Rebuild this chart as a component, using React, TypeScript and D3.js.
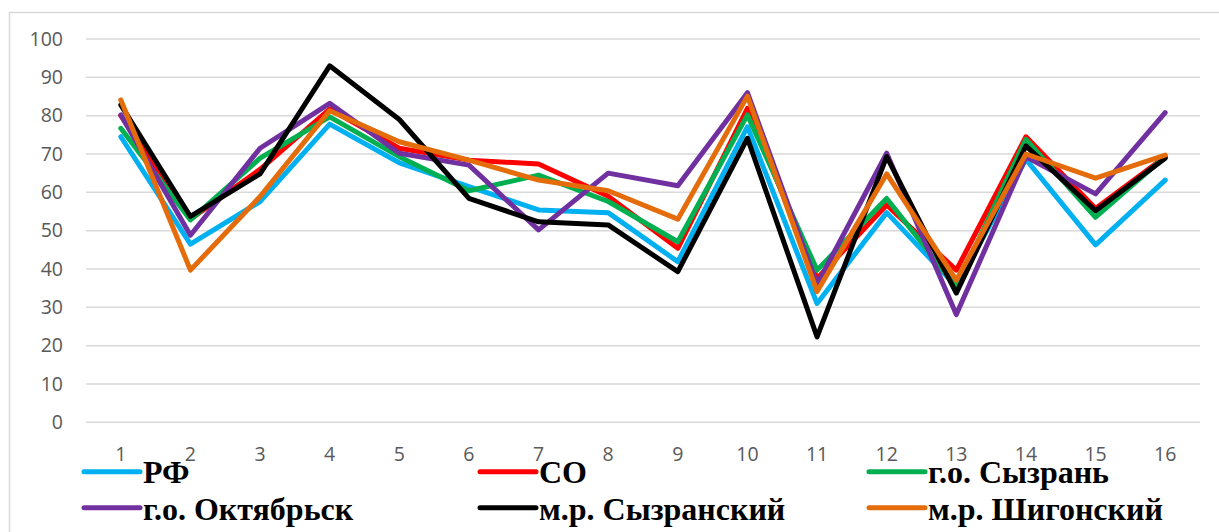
import React from "react";
import * as d3 from "d3";

const categories = ["1","2","3","4","5","6","7","8","9","10","11","12","13","14","15","16"];
const yTicks = [0,10,20,30,40,50,60,70,80,90,100];

const seriesNames = ["РФ","СО","г.о. Сызрань","г.о. Октябрьск","м.р. Сызранский","м.р. Шигонский"];
const seriesColors = ["#00B0F0","#FF0000","#00B050","#7030A0","#000000","#E46C0A"];

const rf =         [74.5, 46.5, 57.6, 77.8, 67.7, 61.5, 55.4, 54.7, 41.9, 77.1, 31.0, 54.7, 35.5, 68.6, 46.3, 63.2];
const so =         [80.0, 53.0, 66.0, 81.7, 71.5, 68.4, 67.4, 59.0, 45.4, 81.9, 37.5, 56.7, 39.7, 74.5, 55.8, 69.3];
const syzran =     [76.7, 52.8, 68.9, 79.7, 69.3, 60.4, 64.5, 57.6, 47.1, 80.2, 39.7, 58.4, 35.4, 73.8, 53.5, 69.3];
const oktyabrsk =  [80.2, 48.8, 71.5, 83.2, 70.2, 67.1, 50.2, 65.0, 61.7, 86.0, 36.0, 70.2, 28.1, 69.3, 59.6, 80.8];
const syzranskiy = [82.8, 53.7, 64.8, 93.0, 79.0, 58.4, 52.3, 51.5, 39.3, 74.1, 22.3, 69.3, 33.7, 72.1, 55.2, 68.9];
const shigonskiy = [84.1, 39.7, 58.9, 81.3, 73.2, 68.4, 63.2, 60.4, 53.0, 85.1, 34.1, 64.8, 37.1, 70.0, 63.7, 69.7];

const seriesValues = [rf, so, syzran, oktyabrsk, syzranskiy, shigonskiy];

const W = 1219, H = 532;
const plotLeft = 86, plotRight = 1200, plotTop = 39, plotBottom = 422.3;

export default function App() {
  const x = d3.scaleBand<string>().domain(categories).range([plotLeft, plotRight]);
  const y = d3.scaleLinear().domain([0, 100]).range([plotBottom, plotTop]);
  const line = d3.line<number>()
    .x((_, i) => (x(categories[i]) as number) + x.bandwidth() / 2)
    .y((d) => y(d));

  const legendCols = [84, 480, 869];
  const legendRowsLine = [471.7, 507.7];
  const legendRowsText = [483, 520];

  return (
    <svg width={W} height={H} style={{ position: "absolute", left: 0, top: 0, background: "#fff" }}>
      <rect x={9.5} y={12.5} width={W} height={H} fill="#fff" stroke="#d9d9d9" strokeWidth={1.5} />
      {yTicks.map((t) => (
        <g key={t}>
          <line x1={plotLeft} x2={plotRight} y1={y(t)} y2={y(t)} stroke="#d9d9d9" strokeWidth={1.5} />
          <text x={63} y={y(t)} dy="0.35em" textAnchor="end" fontFamily="'Open Sans', sans-serif" fontSize={19.5} fill="#595959">{t}</text>
        </g>
      ))}
      {categories.map((c) => (
        <text key={c} x={(x(c) as number) + x.bandwidth() / 2} y={454} dy="0.35em" textAnchor="middle" fontFamily="'Open Sans', sans-serif" fontSize={19.5} fill="#595959">{c}</text>
      ))}
      {seriesValues.map((vals, i) => (
        <path key={i} d={line(vals) || ""} fill="none" stroke={seriesColors[i]} strokeWidth={5} strokeLinejoin="round" strokeLinecap="round" />
      ))}
      {seriesNames.map((name, i) => {
        const col = i % 3, row = Math.floor(i / 3);
        const lx = legendCols[col];
        return (
          <g key={name}>
            <line x1={lx} x2={lx + 56} y1={legendRowsLine[row]} y2={legendRowsLine[row]} stroke={seriesColors[i]} strokeWidth={5} strokeLinecap="round" />
            <text x={lx + 59} y={legendRowsText[row]} fontFamily="'Liberation Serif', 'Times New Roman', serif" fontWeight="bold" fontSize={32} fill="#000">{name}</text>
          </g>
        );
      })}
    </svg>
  );
}
